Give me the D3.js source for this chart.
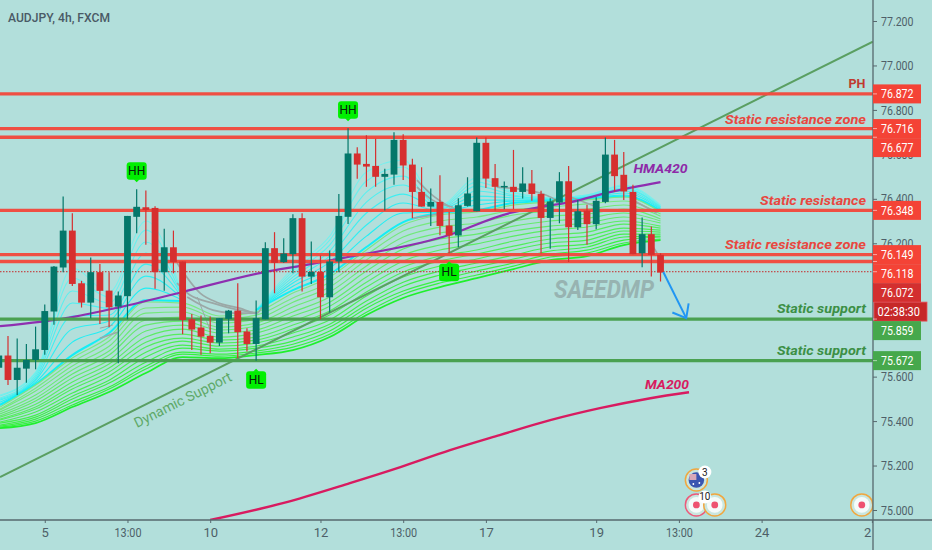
<!DOCTYPE html>
<html>
<head>
<meta charset="utf-8">
<script src="https://cdn.jsdelivr.net/npm/d3@7/dist/d3.min.js"></script>
<style>
html,body{margin:0;padding:0;background:#b2dfdb;}
svg{display:block;}
text{font-family:Roboto,"Open Sans",sans-serif;}
</style>
</head>
<body>
<svg id="chart" width="932" height="550"></svg>
<script>
// ---------- data ----------
const firstCandleIndex = -1;
const candleOpen = [75.640,75.695,75.585,75.636,75.675,75.720,75.893,76.091,76.257,76.020,75.933,76.070,75.987,75.915,75.962,76.319,76.362,76.359,76.070,76.182,76.118,75.858,75.821,75.783,75.753,75.860,75.897,75.803,75.747,75.858,76.178,76.115,76.151,76.313,76.050,76.071,75.957,76.118,76.319,76.604,76.557,76.548,76.499,76.509,76.665,76.554,76.431,76.365,76.386,76.280,76.235,76.368,76.344,76.652,76.493,76.454,76.454,76.431,76.469,76.422,76.314,76.383,76.479,76.272,76.347,76.286,76.386,76.599,76.508,76.431,76.155,76.241,76.148];
const candleClose = [75.695,75.585,75.640,75.675,75.723,75.895,76.095,76.257,76.017,75.933,76.070,75.986,75.912,75.965,76.323,76.364,76.350,76.070,76.182,76.116,75.855,75.812,75.780,75.753,75.863,75.897,75.800,75.747,75.863,76.178,76.112,76.154,76.313,76.050,76.071,75.957,76.118,76.323,76.604,76.554,76.545,76.499,76.512,76.665,76.550,76.431,76.365,76.386,76.278,76.235,76.371,76.424,76.652,76.491,76.454,76.458,76.431,76.469,76.422,76.314,76.388,76.479,76.272,76.344,76.286,76.391,76.599,76.502,76.433,76.151,76.241,76.148,76.068];
const candleHigh = [75.735,75.783,75.772,75.747,75.825,75.925,76.098,76.410,76.335,76.031,76.136,76.107,76.070,75.983,76.323,76.443,76.437,76.367,76.265,76.257,76.118,75.882,75.875,75.870,75.864,75.900,76.020,75.818,75.942,76.205,76.250,76.223,76.331,76.335,76.208,76.145,76.167,76.422,76.718,76.632,76.686,76.670,76.535,76.700,76.691,76.580,76.542,76.446,76.506,76.341,76.403,76.497,76.676,76.676,76.557,76.478,76.620,76.542,76.530,76.436,76.403,76.520,76.548,76.395,76.373,76.407,76.676,76.665,76.611,76.463,76.316,76.275,76.155];
const candleLow = [75.615,75.562,75.517,75.573,75.633,75.698,75.833,76.070,76.008,75.911,75.863,75.837,75.822,75.660,75.858,76.245,76.193,75.995,75.986,76.065,75.791,75.720,75.698,75.705,75.738,75.795,75.683,75.713,75.672,75.858,75.975,76.112,76.065,75.983,76.017,75.858,75.888,76.070,76.287,76.490,76.454,76.454,76.347,76.463,76.485,76.313,76.365,76.278,76.236,76.155,76.182,76.365,76.344,76.449,76.347,76.353,76.353,76.401,76.391,76.155,76.175,76.290,76.116,76.260,76.193,76.263,76.380,76.433,76.395,76.151,76.092,76.050,76.028];

const yTickValues = [77.2,77.0,76.8,76.6,76.4,76.2,75.6,75.4,75.2,75.0];
const xTickIndex = [4,13,22,34,43,52,64,73,82,94];
const xTickLabels = ["5","13:00","10","12","13:00","17","19","13:00","24","2"];

const redLevels = [76.872,76.716,76.677,76.348,76.149,76.118];
const greenLevels = [75.859,75.672];
const lastPrice = 76.072;
const countdownLabel = "02:38:30";

const trendIndex = [-0.87,94.1];
const trendPrice = [75.148,77.107];

const hmaIndex = [-0.87,7,12.2,19,27.4,32.9,36.5,47.3,54.6,57.9,61.2,65.5,71];
const hmaPrice = [75.827,75.868,75.913,75.981,76.066,76.106,76.134,76.228,76.336,76.363,76.385,76.430,76.475];

const maIndex = [22,29.9,37.2,42.7,48.1,53.5,59,64.4,69.9,74.1];
const maPrice = [74.955,75.031,75.121,75.193,75.269,75.337,75.404,75.458,75.503,75.530];

const arrowIndex = [71.3,73.8];
const arrowPrice = [76.071,75.863];

const ribbonIndex = [-0.87,3,7,11,15,19,23,27,31,35,39,43,47,51,55,59,63,67,71];
const greenRibbon0 = [75.463,75.562,75.684,75.778,75.936,75.931,75.873,75.891,75.976,76.048,76.170,76.282,76.327,76.341,76.372,76.386,76.395,76.408,76.341];
const greenRibbon1 = [75.454,75.548,75.666,75.760,75.909,75.913,75.859,75.877,75.954,76.025,76.147,76.255,76.300,76.318,76.350,76.363,76.377,76.390,76.332];
const greenRibbon2 = [75.450,75.535,75.648,75.737,75.886,75.891,75.841,75.859,75.935,76.003,76.125,76.228,76.273,76.291,76.327,76.345,76.354,76.372,76.322];
const greenRibbon3 = [75.441,75.517,75.630,75.715,75.855,75.868,75.823,75.841,75.913,75.981,76.098,76.201,76.246,76.264,76.300,76.322,76.331,76.354,76.309];
const greenRibbon4 = [75.432,75.503,75.612,75.697,75.832,75.850,75.810,75.828,75.891,75.958,76.075,76.174,76.219,76.241,76.277,76.300,76.313,76.336,76.300];
const greenRibbon5 = [75.423,75.490,75.594,75.675,75.805,75.832,75.796,75.810,75.873,75.935,76.048,76.147,76.192,76.219,76.255,76.277,76.291,76.318,76.291];
const greenRibbon6 = [75.418,75.476,75.576,75.657,75.778,75.814,75.778,75.796,75.850,75.917,76.025,76.120,76.170,76.197,76.232,76.259,76.273,76.300,76.277];
const greenRibbon7 = [75.409,75.463,75.558,75.639,75.755,75.791,75.764,75.778,75.832,75.895,76.003,76.093,76.143,76.170,76.210,76.237,76.250,76.286,76.268];
const greenRibbon8 = [75.405,75.454,75.544,75.621,75.733,75.773,75.751,75.764,75.814,75.877,75.981,76.071,76.120,76.152,76.187,76.219,76.232,76.268,76.259];
const greenRibbon9 = [75.396,75.441,75.526,75.603,75.710,75.760,75.737,75.751,75.796,75.855,75.963,76.048,76.098,76.129,76.170,76.201,76.214,76.255,76.250];
const greenRibbon10 = [75.391,75.427,75.512,75.584,75.688,75.742,75.724,75.737,75.778,75.836,75.940,76.025,76.075,76.111,76.147,76.183,76.196,76.241,76.241];
const greenRibbon11 = [75.382,75.418,75.499,75.571,75.665,75.728,75.715,75.728,75.760,75.823,75.922,76.007,76.057,76.093,76.129,76.165,76.183,76.228,76.232];
const greenRibbon12 = [75.377,75.409,75.485,75.553,75.647,75.710,75.701,75.715,75.746,75.805,75.908,75.985,76.034,76.075,76.111,76.151,76.169,76.214,76.228];
const greenRibbon13 = [75.373,75.400,75.472,75.544,75.634,75.701,75.692,75.706,75.733,75.791,75.890,75.971,76.021,76.057,76.097,76.138,76.156,76.201,76.219];
const greenRibbon14 = [75.368,75.391,75.463,75.531,75.616,75.688,75.683,75.697,75.719,75.778,75.877,75.954,76.003,76.043,76.084,76.124,76.142,76.192,76.214];

const cyanRibbon0 = [75.517,75.620,76.088,75.980,76.300,75.967,null,75.899,76.088,76.232,76.521,76.574,76.372,76.493,76.431,76.404,76.417,76.462,76.372];
const cyanRibbon1 = [75.513,75.616,76.044,75.958,76.259,75.962,null,75.899,76.075,76.214,76.480,76.543,76.367,76.475,76.426,76.404,76.417,76.457,76.367];
const cyanRibbon2 = [75.504,75.607,75.985,75.931,76.206,75.958,null,75.899,76.061,76.192,76.430,76.502,76.363,76.457,76.417,76.399,76.412,76.448,76.363];
const cyanRibbon3 = [75.499,75.598,75.931,75.908,76.156,75.958,null,75.899,76.048,76.165,76.385,76.462,76.358,76.435,76.412,76.399,76.408,76.444,76.363];
const cyanRibbon4 = [75.494,75.589,75.873,75.877,76.106,75.953,null,75.899,76.034,76.142,76.336,76.421,76.354,76.412,76.404,76.394,76.408,76.435,76.358];
const cyanRibbon5 = [75.485,75.584,75.814,75.850,76.052,75.949,null,75.899,76.021,76.115,76.282,76.381,76.345,76.394,76.394,76.394,76.404,76.426,76.354];
const cyanRibbon6 = [75.476,75.575,75.755,75.823,75.998,75.944,null,75.899,76.007,76.088,76.232,76.336,76.341,76.372,76.390,76.394,76.404,76.417,76.349];
const cyanRibbon7 = [75.472,75.566,75.697,75.796,75.944,75.940,null,75.899,75.989,76.061,76.183,76.295,76.336,76.349,76.381,76.390,76.399,76.412,76.345];

const greySegments = [
  [[18.4,76.111],[20.9,75.976],[22.7,75.935],[25.2,75.908],[27.1,75.886],[27.6,75.913]],
  [[18.4,76.021],[19.8,75.967],[22.3,75.931],[25.2,75.899],[27.1,75.886]],
  [[19.5,75.958],[22.3,75.899],[24.5,75.886],[27.1,75.886]],
  [[20.6,75.958],[22,75.809]],
  [[10,75.773],[11.9,75.800]],
  [[10,75.818],[11.4,75.832]],
  [[44.5,76.484],[45.9,76.426],[48.1,76.363]],
  [[44.5,76.453],[46.2,76.394],[48.4,76.363]],
  [[44.1,76.313],[46.2,76.327],[48.9,76.359]],
  [[53.2,76.453],[57.9,76.426],[59.7,76.394]],
  [[61.2,76.408],[64.1,76.363]],
  [[68,76.394],[70.6,76.336]],
  [[70.2,76.183],[71.3,76.111]]
];

const pivotIndex = [14,37,27,48];
const pivotLabel = ["HH","HH","HL","HL"];
const eventIndex = [74.9,76.9,92.9,74.9];
const eventPrice = [75.023,75.023,75.023,75.135];
const eventKind = ["high","medium","medium","flag"];
const eventBadge = ["10","","","3"];

// ---------- scales ----------
const W = 932, H = 550, plotR = 873, plotB = 520;
const x = d3.scaleLinear().domain([0,94]).range([8,871.9]);
const y = d3.scaleLinear().domain([75,77.2]).range([510,21]);

const C = {bg:"#b2dfdb",axis:"#56686e",label:"#4e5f68",red:"#ef4f43",tag:"#f44336",
  green:"#4aa151",candleUp:"#04776a",candleDown:"#d62f2f",gtag:"#46a84c",last:"#d32f2f",
  timer:"#c62828",hma:"#8e2fb0",ma:"#d81b60",trend:"#5a9f62",grey:"#9ba8a6"};

const svg = d3.select("#chart");
svg.append("rect").attr("width",W).attr("height",H).attr("fill",C.bg);
const defs = svg.append("defs");
defs.append("clipPath").attr("id","plot").append("rect").attr("width",plotR).attr("height",plotB);

const plot = svg.append("g").attr("clip-path","url(#plot)");

// ---------- ribbon ----------
const ribbonLine = d3.line()
  .defined(d=>d[1]!==null)
  .x(d=>x(d[0])).y(d=>y(d[1])).curve(d3.curveMonotoneX);
const zipRibbon = arr => arr.map((v,i)=>[ribbonIndex[i],v]);

const cyans = [cyanRibbon0,cyanRibbon1,cyanRibbon2,cyanRibbon3,cyanRibbon4,cyanRibbon5,cyanRibbon6,cyanRibbon7];
const cyanCol = d3.interpolateRgb("#79efec","#14eef5");
plot.append("g").attr("fill","none").selectAll("path").data(cyans).join("path")
  .attr("d",d=>ribbonLine(zipRibbon(d)))
  .attr("stroke",(d,i)=>cyanCol(i/7))
  .attr("stroke-width",(d,i)=>i===7?2:1.1);

const greens = [greenRibbon0,greenRibbon1,greenRibbon2,greenRibbon3,greenRibbon4,greenRibbon5,greenRibbon6,greenRibbon7,greenRibbon8,greenRibbon9,greenRibbon10,greenRibbon11,greenRibbon12,greenRibbon13,greenRibbon14];
const greenCol = d3.interpolateRgb("#7ce784","#35f23f");
plot.append("g").attr("fill","none").selectAll("path").data(greens).join("path")
  .attr("d",d=>ribbonLine(zipRibbon(d)))
  .attr("stroke",(d,i)=>i===14?"#1ff02c":greenCol(i/13))
  .attr("stroke-width",(d,i)=>i===14?1.7:1.15);

// grey fast lines
const greyLine = d3.line().x(d=>x(d[0])).y(d=>y(d[1])).curve(d3.curveMonotoneX);
plot.append("g").attr("fill","none").selectAll("path").data(greySegments).join("path")
  .attr("d",greyLine)
  .attr("stroke",C.grey)
  .attr("stroke-width",(d,i)=>(i===3||i===5)?1:1.7);

// ---------- trend, ma, hma ----------
const pairLine = d3.line().x(d=>x(d[0])).y(d=>y(d[1])).curve(d3.curveMonotoneX);
plot.append("path").attr("fill","none").attr("stroke",C.trend).attr("stroke-width",2)
  .attr("d",pairLine(trendIndex.map((v,i)=>[v,trendPrice[i]])));
plot.append("path").attr("fill","none").attr("stroke",C.ma).attr("stroke-width",2.4)
  .attr("d",pairLine(maIndex.map((v,i)=>[v,maPrice[i]])));
plot.append("path").attr("fill","none").attr("stroke",C.hma).attr("stroke-width",2.2)
  .attr("d",pairLine(hmaIndex.map((v,i)=>[v,hmaPrice[i]])));

// ---------- levels ----------
plot.selectAll("line.red").data(redLevels).join("line").attr("class","red")
  .attr("x1",0).attr("x2",plotR).attr("y1",d=>y(d)).attr("y2",d=>y(d))
  .attr("stroke",C.red).attr("stroke-width",3.4);
plot.selectAll("line.grn").data(greenLevels).join("line").attr("class","grn")
  .attr("x1",0).attr("x2",plotR).attr("y1",d=>y(d)).attr("y2",d=>y(d))
  .attr("stroke",C.green).attr("stroke-width",3.2);
plot.append("line").attr("x1",0).attr("x2",plotR).attr("y1",y(lastPrice)).attr("y2",y(lastPrice))
  .attr("stroke","#c62828").attr("stroke-width",1).attr("stroke-dasharray","1.5 1.5");

// ---------- candles ----------
const candles = candleOpen.map((o,i)=>({i:i+firstCandleIndex,o,c:candleClose[i],h:candleHigh[i],l:candleLow[i]}));
const cg = plot.append("g").selectAll("g").data(candles).join("g");
const ccol = d=>d.c>=d.o?C.candleUp:C.candleDown;
cg.append("line").attr("x1",d=>x(d.i)).attr("x2",d=>x(d.i))
  .attr("y1",d=>y(d.h)).attr("y2",d=>y(d.l)).attr("stroke",ccol).attr("stroke-width",1.2);
cg.append("rect").attr("x",d=>x(d.i)-3.4).attr("width",6.8)
  .attr("y",d=>y(Math.max(d.o,d.c)))
  .attr("height",d=>Math.max(1.5,Math.abs(y(d.o)-y(d.c))))
  .attr("fill",ccol);

// ---------- arrow ----------
const ax0=x(arrowIndex[0]), ax1=x(arrowIndex[1]), ay0=y(arrowPrice[0]), ay1=y(arrowPrice[1]);
const arrowDir=Math.atan2(ay1-ay0,ax1-ax0);
const barb=a=>[ax1+15*Math.cos(arrowDir+Math.PI+a), ay1+15*Math.sin(arrowDir+Math.PI+a)];
plot.append("path").attr("fill","none").attr("stroke","#2196f3").attr("stroke-width",2)
  .attr("d",d3.line()([[ax0,ay0],[ax1,ay1]]));
plot.append("path").attr("fill","none").attr("stroke","#2196f3").attr("stroke-width",2)
  .attr("d",d3.line()([barb(0.62),[ax1,ay1],barb(-0.72)]));

// ---------- pivot labels ----------
const pivots = pivotIndex.map((idx,k)=>{
  const c = candles.find(d=>d.i===idx), isHigh = pivotLabel[k]==="HH";
  return {cx:x(idx), tip:isHigh?y(c.h):y(c.l), isHigh, label:pivotLabel[k]};
});
const pg = plot.append("g").selectAll("g").data(pivots).join("g");
pg.append("rect").attr("rx",3).attr("x",d=>d.cx-10).attr("width",20).attr("height",17.5)
  .attr("y",d=>d.isHigh?d.tip-27:d.tip+10.5).attr("fill","#00f000");
pg.append("path").attr("fill","#00f000").attr("d",d=>d.isHigh
  ?`M${d.cx-3},${d.tip-10}L${d.cx+3},${d.tip-10}L${d.cx},${d.tip-7}Z`
  :`M${d.cx-3},${d.tip+11}L${d.cx+3},${d.tip+11}L${d.cx},${d.tip+8}Z`);
pg.append("text").attr("x",d=>d.cx).attr("y",d=>(d.isHigh?d.tip-18:d.tip+19)+4.2).attr("text-anchor","middle")
  .attr("font-size",12).attr("fill","#06200a").text(d=>d.label);

// ---------- events ----------
const events = eventIndex.map((v,i)=>({cx:x(v),cy:y(eventPrice[i]),kind:eventKind[i],badge:eventBadge[i]}));
const eg = plot.append("g");
events.forEach(e=>{
  const ring = e.kind==="high"?"#ec5a7a":"#f0a73f";
  eg.append("circle").attr("cx",e.cx).attr("cy",e.cy).attr("r",11).attr("fill","#c9e6df").attr("stroke",ring).attr("stroke-width",1.5);
  if(e.kind==="flag"){
    eg.append("circle").attr("cx",e.cx).attr("cy",e.cy).attr("r",7.8).attr("fill","#3a55b0");
    eg.append("rect").attr("x",e.cx-7).attr("y",e.cy-6).attr("width",7).attr("height",6).attr("fill","#d8a8b8");
    eg.append("circle").attr("cx",e.cx+3).attr("cy",e.cy+3).attr("r",0.9).attr("fill","#fff");
    eg.append("circle").attr("cx",e.cx-3).attr("cy",e.cy+4).attr("r",0.9).attr("fill","#fff");
  } else {
    eg.append("circle").attr("cx",e.cx).attr("cy",e.cy).attr("r",7.8).attr("fill","#f5fbfa");
    eg.append("circle").attr("cx",e.cx).attr("cy",e.cy).attr("r",3.4).attr("fill","#ee5270");
  }
});
events.filter(e=>e.badge).forEach(e=>{
  eg.append("circle").attr("cx",e.cx+8.5).attr("cy",e.cy-8).attr("r",6.5).attr("fill","#fff");
  eg.append("text").attr("x",e.cx+8.5).attr("y",e.cy-4.4).attr("text-anchor","middle")
    .attr("font-size",10).attr("fill","#222").text(e.badge);
});

// ---------- annotations ----------
function note(txt,xr,base,col,len,size,weight){
  plot.append("text").attr("x",xr).attr("y",base).attr("text-anchor","end")
    .attr("font-size",size||13).attr("font-weight",weight||700).attr("font-style","italic")
    .attr("fill",col).attr("textLength",len).attr("lengthAdjust","spacingAndGlyphs").text(txt);
}
plot.append("text").attr("x",865.5).attr("y",88).attr("text-anchor","end").attr("font-size",12.5)
  .attr("font-weight",700).attr("fill","#c0392f").attr("textLength",17).attr("lengthAdjust","spacingAndGlyphs").text("PH");
note("Static resistance zone",866,124,"#e8473f",141);
note("Static resistance",866,205,"#e8473f",106);
note("Static resistance zone",866,249,"#e8473f",141);
note("Static support",866,313,"#3c8f45",89);
note("Static support",866,355,"#3c8f45",89);
note("HMA420",687.5,173,"#8e2aa8",54);
note("MA200",689,389,"#d81b60",44);

plot.append("text").attr("transform","translate(137,428) rotate(-26.5)")
  .attr("font-family","'DejaVu Sans'").attr("font-size",14).attr("fill","#5ea968").text("Dynamic Support");

plot.append("text").attr("x",654).attr("y",298).attr("text-anchor","end")
  .attr("font-family","'Liberation Sans'").attr("font-size",25).attr("font-weight",700).attr("font-style","italic")
  .attr("fill","#97b3b1").attr("textLength",100).attr("lengthAdjust","spacingAndGlyphs").text("SAEEDMP");

svg.append("text").attr("x",8).attr("y",22).attr("font-size",13.5).attr("font-weight",500)
  .attr("fill","#4a5a66").attr("textLength",102).attr("lengthAdjust","spacingAndGlyphs").text("AUDJPY, 4h, FXCM");

// ---------- axes ----------
const yAxis = d3.axisRight(y).tickValues(yTickValues).tickFormat(d3.format(".3f")).tickSize(4).tickPadding(4);
const yG = svg.append("g").attr("transform",`translate(${plotR},0)`).call(yAxis);
yG.select(".domain").remove();
yG.selectAll("line").attr("stroke",C.axis);
yG.selectAll("text").attr("font-size",13).attr("fill",C.label).style("font-family","Roboto")
  .attr("textLength",32.5).attr("lengthAdjust","spacingAndGlyphs");

const xAxis = d3.axisBottom(x).tickValues(xTickIndex).tickFormat((d,i)=>xTickLabels[i]).tickSize(3).tickPadding(5);
const xG = svg.append("g").attr("transform",`translate(0,${plotB})`).call(xAxis);
xG.select(".domain").remove();
xG.selectAll("line").attr("stroke",C.axis);
xG.selectAll("text").attr("font-size",13).attr("fill",C.label).style("font-family","Roboto");
xG.selectAll(".tick").filter((d,i)=>i===xTickIndex.length-1).select("text")
  .attr("text-anchor","end").attr("dx",-1);
xG.selectAll(".tick text").filter(function(){return this.textContent==="13:00";})
  .attr("textLength",27).attr("lengthAdjust","spacingAndGlyphs");

svg.append("line").attr("x1",0).attr("x2",W).attr("y1",plotB).attr("y2",plotB).attr("stroke",C.axis).attr("stroke-width",1.3);
svg.append("line").attr("x1",plotR).attr("x2",plotR).attr("y1",0).attr("y2",H).attr("stroke",C.axis).attr("stroke-width",1.3);

// ---------- price tags ----------
const tags = [
  ...redLevels.map(v=>({v,label:v.toFixed(3),fill:C.tag})),
  {v:lastPrice,label:lastPrice.toFixed(3),fill:C.last},
  {v:lastPrice-0.0001,label:countdownLabel,fill:C.timer,timer:true},
  ...greenLevels.map(v=>({v,label:v.toFixed(3),fill:C.gtag}))
].sort((a,b)=>b.v-a.v);
const boxH = 19;
let prevY = -Infinity;
tags.forEach(t=>{ t.yc = Math.max(y(t.v), prevY+boxH); prevY = t.yc; });
const tg = svg.append("g").selectAll("g").data(tags).join("g");
tg.append("rect").attr("x",d=>d.timer?874:873).attr("width",d=>d.timer?53:48)
  .attr("y",d=>d.yc-boxH/2).attr("height",boxH).attr("fill",d=>d.fill)
  .attr("stroke",d=>d.timer?"#e8505a":"none").attr("stroke-width",d=>d.timer?0.8:0);
tg.filter(d=>!d.timer).append("line").attr("x1",873).attr("x2",877).attr("y1",d=>y(d.v)).attr("y2",d=>y(d.v))
  .attr("stroke","rgba(255,255,255,0.55)");
tg.append("text").attr("x",d=>d.timer?877.5:881).attr("y",d=>d.yc+4.5)
  .attr("font-size",13).attr("fill","#fff")
  .attr("textLength",d=>d.timer?42.5:32.5).attr("lengthAdjust","spacingAndGlyphs").text(d=>d.label);
</script>
</body>
</html>
